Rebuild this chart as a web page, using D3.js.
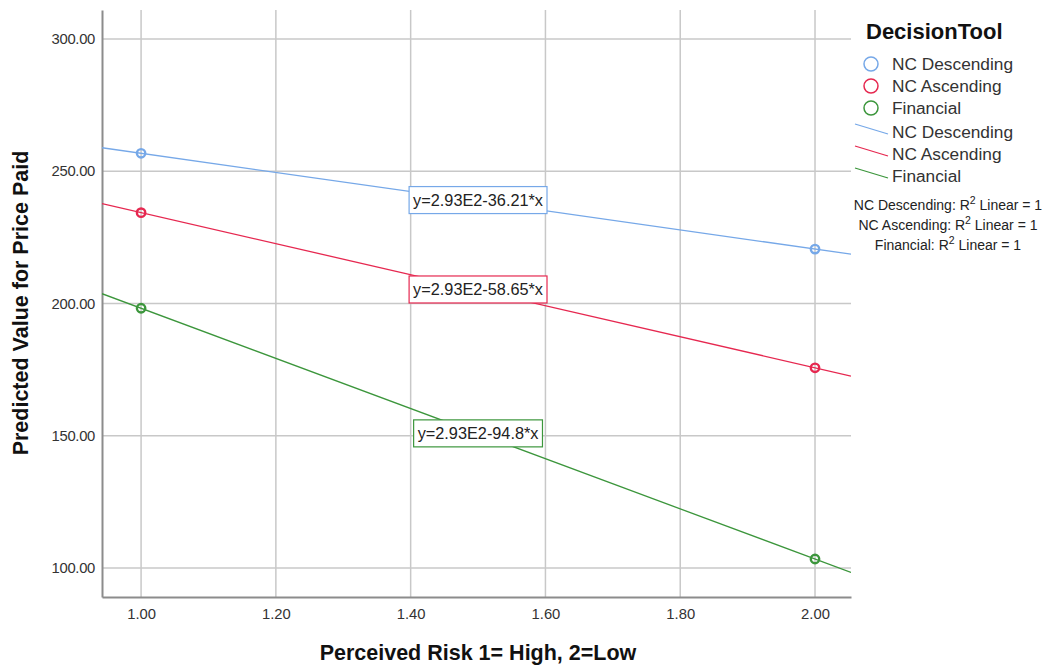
<!DOCTYPE html>
<html><head><meta charset="utf-8">
<script src="https://cdn.jsdelivr.net/npm/d3@7"></script>
<style>body{margin:0;background:#fff;} svg{display:block;font-family:Arial,"Liberation Sans",sans-serif;}</style>
</head><body><svg id="c" width="1050" height="667"></svg>
<script>
const categories = ["NC Descending", "NC Ascending", "Financial"];
const colors = ["#76a8e8", "#e62850", "#3c963c"];
const intercepts = [293, 293, 293];
const slopes = [-36.21, -58.65, -94.8];
const xPoints = [1, 2];
const seriesValues = [[256.79, 220.58], [234.35, 175.70], [198.20, 103.40]];
const equationLabels = ["y=2.93E2-36.21*x", "y=2.93E2-58.65*x", "y=2.93E2-94.8*x"];
const labelCenters = [[1.5, 239.1], [1.5, 205.3], [1.5, 150.9]];
const r2Labels = ["NC Descending: R", "NC Ascending: R", "Financial: R"];
const xTicks = [1.0, 1.2, 1.4, 1.6, 1.8, 2.0];
const yTicks = [100, 150, 200, 250, 300];

const svg = d3.select("#c");
const L = 102, R = 851, T = 10, B = 597;
const x = d3.scaleLinear().domain([0.942, 2.0534]).range([L, R]);
const y = d3.scaleLinear().domain([89.04, 310.96]).range([B, T]);

// grid
const g = svg.append("g");
g.selectAll(".vg").data(xTicks).join("line")
  .attr("x1", d => x(d)).attr("x2", d => x(d)).attr("y1", T).attr("y2", B)
  .attr("stroke", "#c8c8c8").attr("stroke-width", 1.5);
g.selectAll(".hg").data(yTicks).join("line")
  .attr("x1", L).attr("x2", R).attr("y1", d => y(d)).attr("y2", d => y(d))
  .attr("stroke", "#c8c8c8").attr("stroke-width", 1.5);

// axes
const xAxis = d3.axisBottom(x).tickValues(xTicks).tickFormat(d3.format(".2f")).tickSize(0).tickPadding(11);
const yAxis = d3.axisLeft(y).tickValues(yTicks).tickFormat(d3.format(".2f")).tickSize(0).tickPadding(7);
const xa = svg.append("g").attr("transform", `translate(0,${B})`).call(xAxis);
const ya = svg.append("g").attr("transform", `translate(${L},0)`).call(yAxis);
[xa, ya].forEach(a => {
  a.select(".domain").attr("stroke", "#8c8c8c").attr("stroke-width", 2);
  a.selectAll("text").attr("font-size", 14.8).attr("fill", "#333").attr("font-family", "Arial, 'Liberation Sans', sans-serif");
});
ya.selectAll("text").attr("letter-spacing", -0.3);

// fit lines across full plot
svg.append("clipPath").attr("id", "pc").append("rect").attr("x", L).attr("y", T).attr("width", R - L).attr("height", B - T);
const lines = svg.append("g").attr("clip-path", "url(#pc)");
categories.forEach((c, i) => {
  const x0 = x.domain()[0], x1 = x.domain()[1];
  lines.append("line")
    .attr("x1", x(x0)).attr("y1", y(intercepts[i] + slopes[i] * x0))
    .attr("x2", x(x1)).attr("y2", y(intercepts[i] + slopes[i] * x1))
    .attr("stroke", colors[i]).attr("stroke-width", 1.3);
});

// points
categories.forEach((c, i) => {
  svg.append("g").selectAll("circle").data(xPoints).join("circle")
    .attr("cx", d => x(d)).attr("cy", (d, j) => y(seriesValues[i][j]))
    .attr("r", 4.2).attr("fill", "none").attr("stroke", colors[i]).attr("stroke-width", 2.4);
});

// equation labels
categories.forEach((c, i) => {
  const cx = x(labelCenters[i][0]), cy = y(labelCenters[i][1]);
  const t = svg.append("text").attr("x", cx).attr("y", cy + 5.5).attr("text-anchor", "middle")
    .attr("font-size", 16.3).attr("fill", "#222").text(equationLabels[i]);
  const bb = t.node().getBBox();
  svg.insert("rect", () => t.node()).attr("x", bb.x - 4).attr("y", cy - 13.5).attr("width", bb.width + 8).attr("height", 27)
    .attr("fill", "#fff").attr("stroke", colors[i]).attr("stroke-width", 1.2);
});

// axis titles
svg.append("text").attr("x", 478).attr("y", 660).attr("text-anchor", "middle")
  .attr("font-size", 21.5).attr("font-weight", "bold").attr("fill", "#111").text("Perceived Risk 1= High, 2=Low");
svg.append("text").attr("transform", `translate(28,303) rotate(-90)`).attr("text-anchor", "middle")
  .attr("font-size", 21.5).attr("font-weight", "bold").attr("fill", "#111").text("Predicted Value for Price Paid");

// legend
const lg = svg.append("g");
lg.append("text").attr("x", 866).attr("y", 39).attr("font-size", 22).attr("font-weight", "bold").attr("fill", "#111").text("DecisionTool");
categories.forEach((c, i) => {
  lg.append("circle").attr("cx", 871).attr("cy", 64 + 22 * i).attr("r", 7).attr("fill", "none")
    .attr("stroke", colors[i]).attr("stroke-width", 1.5);
  lg.append("text").attr("x", 892).attr("y", 70 + 22 * i).attr("font-size", 17.3).attr("fill", "#333").text(c);
  lg.append("line").attr("x1", 855).attr("y1", 124 + 22 * i).attr("x2", 888).attr("y2", 134 + 22 * i)
    .attr("stroke", colors[i]).attr("stroke-width", 1.3);
  lg.append("text").attr("x", 892).attr("y", 138 + 22 * i).attr("font-size", 17.3).attr("fill", "#333").text(c);
  const t = lg.append("text").attr("x", 948).attr("y", 210 + 20 * i).attr("text-anchor", "middle")
    .attr("font-size", 14).attr("fill", "#222");
  t.append("tspan").text(r2Labels[i]);
  t.append("tspan").attr("dy", -6).attr("font-size", 10.5).text("2");
  t.append("tspan").attr("dy", 6).text(" Linear = 1");
});
</script></body></html>
